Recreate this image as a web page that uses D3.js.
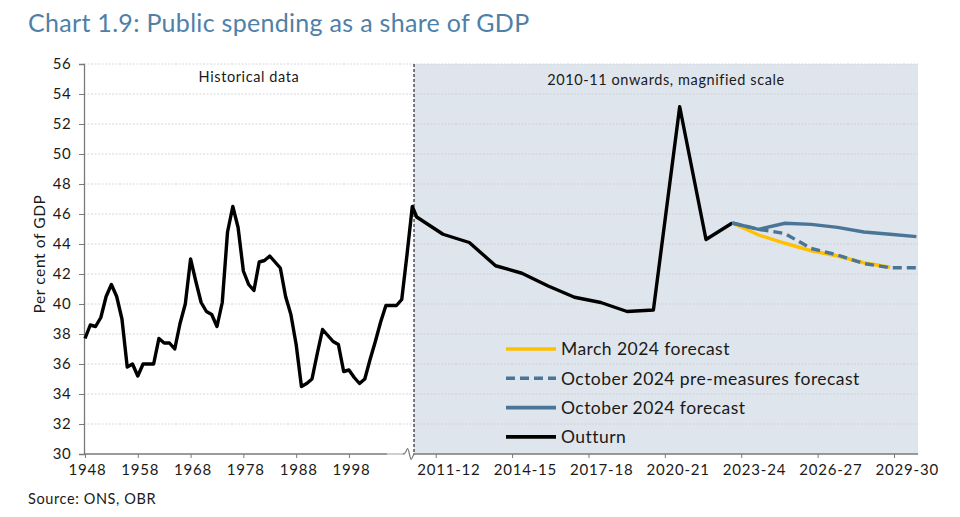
<!DOCTYPE html>
<html>
<head>
<meta charset="utf-8">
<script src="https://cdn.jsdelivr.net/npm/d3@7"></script>
<style>
  body { margin: 0; background: #fff; }
  text { font-family: Lato, "Open Sans", sans-serif; fill: #1a1a1a; }
</style>
</head>
<body>
<div id="chart"></div>
<script>
// historical data, 1948 to 2010 (left panel)
const histStart = 1948, histEnd = 2010;
const histValues = [37.7, 38.6, 38.5, 39.1, 40.5, 41.3, 40.5, 39.0, 35.8, 36.0,
  35.2, 36.0, 36.0, 36.0, 37.7, 37.4, 37.4, 37.0, 38.7, 40.0,
  43.0, 41.5, 40.1, 39.5, 39.3, 38.5, 40.1, 44.8, 46.5, 45.1,
  42.2, 41.3, 40.9, 42.8, 42.9, 43.2, 42.8, 42.4, 40.5, 39.3,
  37.3, 34.5, 34.7, 35.0, 36.7, 38.3, 37.9, 37.5, 37.3, 35.5,
  35.6, 35.1, 34.7, 35.0, 36.3, 37.5, 38.8, 39.9, 39.9, 39.9,
  40.3, 43.3, 46.5];
const histTicks = [1948, 1958, 1968, 1978, 1988, 1998];

// 2010-11 onwards (right panel)
const fiscalYears = ["2010-11", "2011-12", "2012-13", "2013-14", "2014-15", "2015-16",
  "2016-17", "2017-18", "2018-19", "2019-20", "2020-21", "2021-22", "2022-23",
  "2023-24", "2024-25", "2025-26", "2026-27", "2027-28", "2028-29", "2029-30"];
const outturn = [45.8, 44.65, 44.1, 42.55, 42.05, 41.2, 40.45, 40.1, 39.5, 39.6, 53.15, 44.3, 45.4];
const march2024 = [45.4, 44.6, 44.05, 43.55, 43.2, 42.75, 42.45];          // from 2022-23
const oct2024Pre = [45.4, 44.98, 44.7, 43.7, 43.27, 42.7, 42.42, 42.42];   // from 2022-23
const oct2024 = [45.4, 44.98, 45.38, 45.31, 45.11, 44.8, 44.65, 44.49];    // from 2022-23
const forecastStart = 12;
const rightTicks = ["2011-12", "2014-15", "2017-18", "2020-21", "2023-24", "2026-27", "2029-30"];

const yTicks = [30, 32, 34, 36, 38, 40, 42, 44, 46, 48, 50, 52, 54, 56];

const colors = { march: "#ffc000", oct: "#4a7596", outturn: "#000" };

const width = 960, height = 517;
const plotTop = 64, plotBottom = 454, plotLeft = 84, plotRight = 918, divider = 414;
const axisGrey = "#7a7a7a";

const svg = d3.select("#chart").append("svg")
  .attr("width", width)
  .attr("height", height);

const y = d3.scaleLinear().domain([30, 56]).range([plotBottom, plotTop]);
const xL = d3.scaleLinear().domain([histStart, histEnd]).range([85, 412.3]);
const xR = d3.scaleLinear().domain([0, fiscalYears.length - 1]).range([416.7, 916.4]);
// category axis on the right: ticks sit on boundaries, labels in the middle of a category
const xRTick = d3.scaleLinear()
  .domain([fiscalYears.indexOf(rightTicks[0]), fiscalYears.indexOf(rightTicks[rightTicks.length - 1])])
  .range([435.7, 894]);
const halfCat = (xRTick(1) - xRTick(0)) / 2;

// shaded panel
svg.append("rect")
  .attr("x", divider).attr("y", plotTop)
  .attr("width", plotRight - divider).attr("height", plotBottom - plotTop)
  .attr("fill", "#dfe5ec");

// gridlines
svg.append("g")
  .selectAll("line")
  .data(yTicks.slice(1))
  .join("line")
  .attr("x1", plotLeft).attr("x2", plotRight)
  .attr("y1", d => y(d)).attr("y2", d => y(d))
  .attr("stroke", "#c9cdd2")
  .attr("stroke-width", 0.8)
  .attr("stroke-dasharray", "2,1.5");

// divider
svg.append("line")
  .attr("x1", divider).attr("x2", divider)
  .attr("y1", plotTop).attr("y2", plotBottom)
  .attr("stroke", "#000")
  .attr("stroke-width", 1)
  .attr("stroke-dasharray", "3,2");

function styleTicks(g) {
  g.selectAll(".tick line").attr("stroke", axisGrey);
  g.selectAll(".tick text")
    .attr("font-size", 15)
    .attr("letter-spacing", "0.8px")
    .attr("fill", "#1a1a1a");
}

// y axis
const yAxis = svg.append("g")
  .attr("transform", `translate(${plotLeft},0)`)
  .call(d3.axisLeft(y).tickValues(yTicks).tickSize(5).tickPadding(8).tickFormat(d3.format("d")));
yAxis.select(".domain").attr("stroke", axisGrey).attr("stroke-width", 1.3);
styleTicks(yAxis);
yAxis.selectAll(".tick text").attr("letter-spacing", "0.4px");

// left x axis
const xLAxis = svg.append("g")
  .attr("transform", `translate(0,${plotBottom})`)
  .call(d3.axisBottom(xL).tickValues(histTicks).tickSize(4).tickPadding(6).tickFormat(d3.format("d")));
xLAxis.select(".domain").remove();
styleTicks(xLAxis);
xLAxis.selectAll(".tick text").attr("x", 2);

svg.append("line")
  .attr("x1", plotLeft).attr("x2", 387).attr("y1", plotBottom).attr("y2", plotBottom)
  .attr("stroke", axisGrey).attr("stroke-width", 1.3);
svg.append("line")
  .attr("x1", 387).attr("x2", 405).attr("y1", plotBottom).attr("y2", plotBottom)
  .attr("stroke", "#b5b5b5").attr("stroke-width", 1.3);

// axis break squiggle
const breakX = 405;
svg.append("path")
  .attr("d", d3.line().curve(d3.curveBasis)([
    [breakX - 2, plotBottom], [breakX + 1, plotBottom - 1], [breakX + 2.5, plotBottom - 8],
    [breakX + 4.5, plotBottom], [breakX + 6, plotBottom + 8], [breakX + 8, plotBottom + 1], [breakX + 10, plotBottom]
  ]))
  .attr("fill", "none")
  .attr("stroke", axisGrey)
  .attr("stroke-width", 1.2);

// right x axis
const xRAxis = svg.append("g")
  .attr("transform", `translate(0,${plotBottom})`)
  .call(d3.axisBottom(xRTick)
    .tickValues(rightTicks.map(t => fiscalYears.indexOf(t)))
    .tickSize(4).tickPadding(6)
    .tickFormat(i => fiscalYears[i]));
xRAxis.select(".domain").remove();
styleTicks(xRAxis);
xRAxis.selectAll(".tick text").attr("x", halfCat);

svg.append("line")
  .attr("x1", 413).attr("x2", plotRight).attr("y1", plotBottom).attr("y2", plotBottom)
  .attr("stroke", axisGrey).attr("stroke-width", 1.3);

// lines
const line = d3.line();

const histPts = histValues.map((v, i) => [xL(histStart + i), y(v)]);
const outPts = outturn.map((v, i) => [xR(i), y(v)]);
svg.append("path")
  .attr("d", line(histPts.concat(outPts)))
  .attr("fill", "none")
  .attr("stroke", colors.outturn)
  .attr("stroke-width", 3.4)
  .attr("stroke-linejoin", "round");

function forecastPath(vals) {
  return line(vals.map((v, i) => [xR(forecastStart + i), y(v)]));
}

svg.append("path")
  .attr("d", forecastPath(march2024))
  .attr("fill", "none")
  .attr("stroke", colors.march)
  .attr("stroke-width", 3.4);

svg.append("path")
  .attr("d", forecastPath(oct2024Pre))
  .attr("fill", "none")
  .attr("stroke", colors.oct)
  .attr("stroke-width", 3.4)
  .attr("stroke-dasharray", "9,5");

svg.append("path")
  .attr("d", forecastPath(oct2024))
  .attr("fill", "none")
  .attr("stroke", colors.oct)
  .attr("stroke-width", 3.4);

// legend
const legendItems = [
  { name: "March 2024 forecast", color: colors.march, dash: null },
  { name: "October 2024 pre-measures forecast", color: colors.oct, dash: "9,5" },
  { name: "October 2024 forecast", color: colors.oct, dash: null },
  { name: "Outturn", color: colors.outturn, dash: null }
];
const legend = svg.append("g").attr("transform", "translate(506,349)");
const entry = legend.selectAll("g")
  .data(legendItems)
  .join("g")
  .attr("transform", (d, i) => `translate(0,${i * 29.3})`);
entry.append("line")
  .attr("x1", 0).attr("x2", 50)
  .attr("stroke", d => d.color)
  .attr("stroke-width", 3.6)
  .attr("stroke-dasharray", d => d.dash);
entry.append("text")
  .attr("x", 55)
  .attr("dy", "0.36em")
  .attr("font-size", 17.5)
  .attr("letter-spacing", "0.45px")
  .text(d => d.name);

// panel labels
svg.append("text")
  .attr("x", 249).attr("y", 82)
  .attr("text-anchor", "middle")
  .attr("font-size", 14.5)
  .attr("letter-spacing", "0.6px")
  .text("Historical data");
svg.append("text")
  .attr("x", 666).attr("y", 85)
  .attr("text-anchor", "middle")
  .attr("font-size", 14.5)
  .attr("letter-spacing", "0.6px")
  .text("2010-11 onwards, magnified scale");

// axis title
svg.append("text")
  .attr("transform", "translate(45,254) rotate(-90)")
  .attr("text-anchor", "middle")
  .attr("font-size", 15.5)
  .attr("letter-spacing", "0.6px")
  .text("Per cent of GDP");

// title and source
svg.append("text")
  .attr("x", 28).attr("y", 32)
  .attr("font-size", 25)
  .attr("letter-spacing", "0.3px")
  .style("fill", "#4f80a8")
  .text("Chart 1.9: Public spending as a share of GDP");
svg.append("text")
  .attr("x", 28).attr("y", 504)
  .attr("font-size", 14.5)
  .attr("letter-spacing", "0.6px")
  .text("Source: ONS, OBR");
</script>
</body>
</html>
